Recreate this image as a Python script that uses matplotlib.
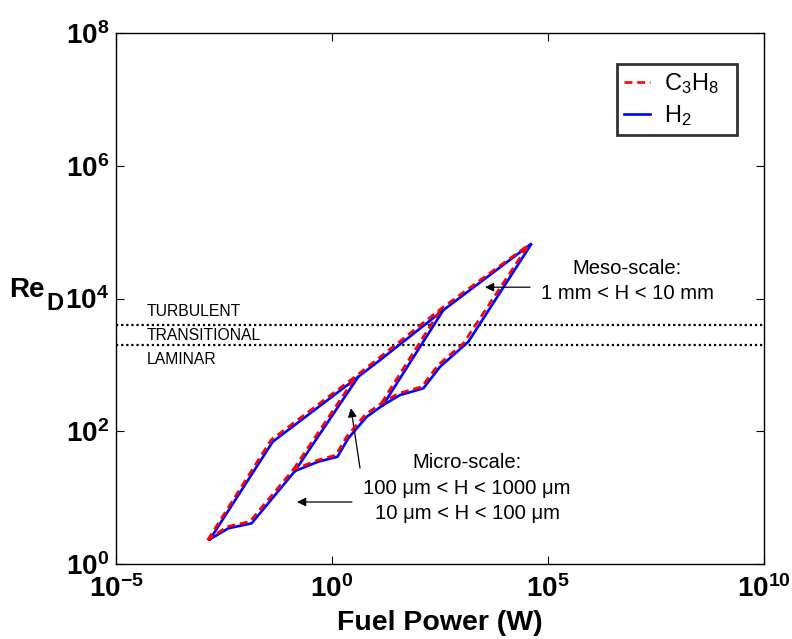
import matplotlib
matplotlib.use("Agg")
import math
import matplotlib.pyplot as plt
from matplotlib.ticker import FixedLocator, FuncFormatter, NullLocator
from matplotlib.lines import Line2D

plt.rcParams['font.family'] = ['Liberation Sans', 'DejaVu Sans']
plt.rcParams['mathtext.fontset'] = 'custom'
plt.rcParams['mathtext.rm'] = 'Liberation Sans'
plt.rcParams['mathtext.it'] = 'Liberation Sans:italic'
plt.rcParams['mathtext.bf'] = 'Liberation Sans:bold'

# ---- data ----
# outer boundary of the three H-ranges, traced counter-clockwise
h2_outer_x = [1.50e-3, 0.0424, 4.06, 12.9, 377, 42000, 1430, 316, 130, 37.5, 15.2,
              6.35, 2.38, 1.34, 0.482, 0.139, 0.0138, 3.98e-3, 1.50e-3]
h2_outer_y = [2.36, 69.5, 662, 1180, 6680, 67600, 2230, 935, 443, 351, 248,
              165, 78.2, 41.3, 34.8, 25.2, 4.10, 3.45, 2.36]
# inner boundaries (H = 100 um and H = 1 mm)
h2_diag1_x = [0.139, 4.06]
h2_diag1_y = [25.2, 662]
h2_diag2_x = [15.2, 377]
h2_diag2_y = [248, 6680]

c3h8_outer_x = [1.32e-3, 0.0389, 3.72, 12.0, 339, 35100, 1100, 288, 120, 34.7, 13.8,
                5.89, 2.19, 1.23, 0.447, 0.126, 0.0126, 3.63e-3, 1.32e-3]
c3h8_outer_y = [2.29, 74.1, 692, 1260, 7080, 63800, 2110, 1000, 468, 372, 263,
                178, 83.2, 43.7, 36.3, 26.3, 4.37, 3.63, 2.29]
c3h8_diag1_x = [0.126, 3.72]
c3h8_diag1_y = [26.3, 692]
c3h8_diag2_x = [13.8, 339]
c3h8_diag2_y = [263, 7080]

regime_limits = [4000, 2000]
regime_labels = ['TURBULENT', 'TRANSITIONAL', 'LAMINAR']
x_ticks = [1e-5, 1e0, 1e5, 1e10]
y_ticks = [1e0, 1e2, 1e4, 1e6, 1e8]

fig = plt.figure(figsize=(7.92, 6.39), dpi=100)
ax = fig.add_axes([116/792, 1 - 564/639, 648/792, 531/639])
ax.set_xscale('log')
ax.set_yscale('log')
ax.set_xlim(1e-5, 1e10)
ax.set_ylim(1e0, 1e8)

blue = '#0000ff'
red = '#ff0000'
for xs, ys in [(h2_outer_x, h2_outer_y), (h2_diag1_x, h2_diag1_y), (h2_diag2_x, h2_diag2_y)]:
    ax.plot(xs, ys, color=blue, lw=1.9, solid_joinstyle='miter', zorder=3)
for xs, ys in [(c3h8_outer_x, c3h8_outer_y), (c3h8_diag1_x, c3h8_diag1_y), (c3h8_diag2_x, c3h8_diag2_y)]:
    ax.plot(xs, ys, color=red, lw=1.9, dashes=(3, 1.8), zorder=4)

for lim in regime_limits:
    ax.axhline(lim, color='black', lw=1.6, linestyle=(0, (1, 1.3)), zorder=2)

ty = [0.4746, 0.431, 0.386]
for lab, yy in zip(regime_labels, ty):
    ax.text(0.048, yy, lab, transform=ax.transAxes, fontsize=11.3,
            ha='left', va='center')

# annotations
afs = 14.6
ax.text(0.7886, 0.557, 'Meso-scale:', transform=ax.transAxes, fontsize=afs, ha='center', va='center')
ax.text(0.7886, 0.510, '1 mm < H < 10 mm', transform=ax.transAxes, fontsize=afs, ha='center', va='center')
ax.text(0.5417, 0.192, 'Micro-scale:', transform=ax.transAxes, fontsize=afs, ha='center', va='center')
ax.text(0.5417, 0.143, '100 μm < H < 1000 μm', transform=ax.transAxes, fontsize=afs, ha='center', va='center')
ax.text(0.5417, 0.096, '10 μm < H < 100 μm', transform=ax.transAxes, fontsize=afs, ha='center', va='center')

aprops = dict(arrowstyle='-|>', color='black', lw=0.9, mutation_scale=13, shrinkA=0, shrinkB=0)
ax.annotate('', xy=(3480, 1.48e4), xytext=(3.83e4, 1.48e4), arrowprops=aprops)
ax.annotate('', xy=(2.75, 223), xytext=(4.45, 27.9), arrowprops=aprops)
ax.annotate('', xy=(0.155, 8.59), xytext=(2.9, 8.59), arrowprops=aprops)

# ticks
ax.xaxis.set_major_locator(FixedLocator(x_ticks))
ax.yaxis.set_major_locator(FixedLocator(y_ticks))
ax.xaxis.set_minor_locator(NullLocator())
ax.yaxis.set_minor_locator(NullLocator())
fmt = FuncFormatter(lambda v, p: r'$\mathbf{10^{%d}}$' % round(math.log10(v)))
ax.xaxis.set_major_formatter(fmt)
ax.yaxis.set_major_formatter(fmt)
ax.tick_params(which='both', direction='in', top=True, right=True, length=6, width=0.8,
               labelsize=20)
ax.tick_params(axis='x', pad=8)
ax.tick_params(axis='y', pad=5)
for s in ax.spines.values():
    s.set_linewidth(1.0)

ax.set_xlabel('Fuel Power (W)', fontsize=20.5, fontweight='bold', labelpad=5)

# y label "Re" with large subscript "D"
fig.text(45/792, 1 - 290/639, 'Re', fontsize=20, fontweight='bold', ha='right', va='center')
fig.text(46/792, 1 - 304/639, 'D', fontsize=17, fontweight='bold', ha='left', va='center')

handles = [Line2D([], [], color=red, lw=1.9, dashes=(3, 1.8)),
           Line2D([], [], color=blue, lw=1.9)]
leg = ax.legend(handles, ['C$_3$H$_8$', 'H$_2$'], loc='upper left',
                bbox_to_anchor=(0.773, 0.804, 0.185, 0.1376), mode='expand',
                fontsize=17, frameon=True,
                fancybox=False, edgecolor='black', handlelength=1.1,
                handletextpad=0.6, borderpad=0.3, borderaxespad=0,
                labelspacing=0.3)
leg.get_frame().set_linewidth(2)

fig.savefig('out.png', dpi=100)
